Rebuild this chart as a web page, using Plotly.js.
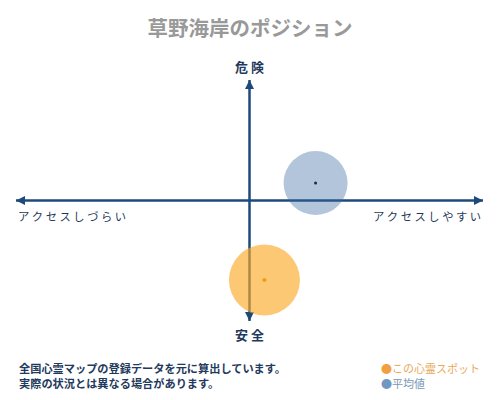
<!DOCTYPE html>
<html>
<head>
<meta charset="utf-8">
<script src="https://cdn.plot.ly/plotly-3.0.1.min.js"></script>
<style>html,body{margin:0;padding:0;background:#fff;}#chart{width:500px;height:400px;}</style>
</head>
<body>
<div id="chart"></div>
<script>
// Data
const seriesNames = ['この心霊スポット', '平均値'];
const accessX = [0.064, 0.283];      // アクセスしづらい(-1) … アクセスしやすい(+1)
const dangerY = [-0.66, 0.145];      // 安全(-1) … 危険(+1)
const bubbleSizes = [71, 64];
const titleText = '草野海岸のポジション';
const axisLabels = {top: '危 険', bottom: '安 全', left: 'ア ク セ ス し づ ら い', right: 'ア ク セ ス し や す い'};
const noteLines = ['全国心霊マップの登録データを元に算出しています。', '実際の状況とは異なる場合があります。'];

const fill = ['rgba(250,170,40,0.65)', 'rgba(60,105,160,0.39)'];
const dotColor = ['#f39a1e', '#1a2a40'];
const axisColor = '#1d4a7a';
const font = '"Noto Sans CJK JP", "Noto Sans", sans-serif';

const traces = [];
// axes as line traces with arrow markers
traces.push({x: [-1, 1], y: [0, 0], mode: 'lines+markers', line: {color: axisColor, width: 2.5},
  marker: {symbol: ['arrow-left', 'arrow-right'], size: 9, color: axisColor}, hoverinfo: 'skip', showlegend: false});
traces.push({x: [0, 0], y: [1, -1], mode: 'lines+markers', line: {color: axisColor, width: 2.5},
  marker: {symbol: ['arrow-up', 'arrow-down'], size: 9, color: axisColor}, hoverinfo: 'skip', showlegend: false});
// bubbles, average first (drawn below)
[1, 0].forEach(i => {
  traces.push({x: [accessX[i]], y: [dangerY[i]], mode: 'markers', name: seriesNames[i],
    marker: {size: bubbleSizes[i], color: fill[i], line: {width: 0}}, showlegend: false});
  traces.push({x: [accessX[i]], y: [dangerY[i]], mode: 'markers',
    marker: {size: i === 0 ? 4 : 3, color: dotColor[i], line: {width: 0}}, hoverinfo: 'skip', showlegend: false});
});

const navy = '#1f3a5c';
const annotations = [
  {x: 0, y: 1.108, text: '<b>' + axisLabels.top + '</b>', showarrow: false, font: {family: font, size: 13, color: navy}},
  {x: 0, y: -1.116, text: '<b>' + axisLabels.bottom + '</b>', showarrow: false, font: {family: font, size: 13, color: navy}},
  {x: -1, y: -0.125, xanchor: 'left', text: axisLabels.left, showarrow: false, font: {family: font, size: 11.3, color: navy}},
  {x: 1, y: -0.125, xanchor: 'right', text: axisLabels.right, showarrow: false, font: {family: font, size: 11.3, color: navy}},
  {xref: 'paper', yref: 'paper', x: 0.034, y: 0.08, xanchor: 'left', yanchor: 'middle', align: 'left',
    text: '<b>' + noteLines[0] + '</b>', showarrow: false, font: {family: font, size: 11.2, color: navy}},
  {xref: 'paper', yref: 'paper', x: 0.034, y: 0.0425, xanchor: 'left', yanchor: 'middle', align: 'left',
    text: '<b>' + noteLines[1] + '</b>', showarrow: false, font: {family: font, size: 11.2, color: navy}},
  {xref: 'paper', yref: 'paper', x: 0.757, y: 0.08, xanchor: 'left', yanchor: 'middle',
    text: '<span style="color:#f0a040">●</span><span style="color:#e9a95a">' + seriesNames[0] + '</span>', showarrow: false, font: {family: font, size: 11}},
  {xref: 'paper', yref: 'paper', x: 0.757, y: 0.0425, xanchor: 'left', yanchor: 'middle',
    text: '<span style="color:#6f97c2">●</span><span style="color:#7a97b8">' + seriesNames[1] + '</span>', showarrow: false, font: {family: font, size: 11}}
];

const layout = {
  width: 500, height: 400,
  margin: {l: 0, r: 0, t: 0, b: 0},
  paper_bgcolor: '#fff', plot_bgcolor: '#fff',
  title: {text: '<b>' + titleText + '</b>', x: 0.5, xanchor: 'center', y: 0.928, yanchor: 'middle',
    font: {family: font, size: 20.5, color: '#999'}},
  xaxis: {range: [-1.0685, 1.0728], visible: false, fixedrange: true},
  yaxis: {range: [-1.656, 1.664], visible: false, fixedrange: true},
  annotations: annotations,
  showlegend: false
};

Plotly.newPlot('chart', traces, layout, {displayModeBar: false, staticPlot: true});
</script>
</body>
</html>
